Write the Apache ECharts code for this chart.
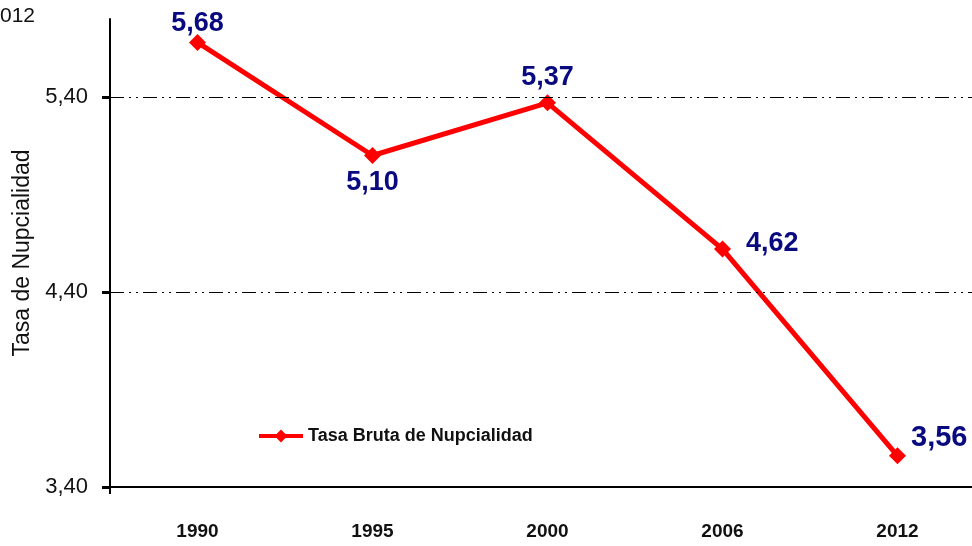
<!DOCTYPE html>
<html>
<head>
<meta charset="utf-8">
<script src="https://cdn.jsdelivr.net/npm/echarts@6/dist/echarts.min.js"></script>
<style>
  html, body { margin: 0; padding: 0; background: #fff; }
  #chart { width: 972px; height: 546px; }
</style>
</head>
<body>
<div id="chart"></div>
<script>
// data
const years = ['1990', '1995', '2000', '2006', '2012']
const tasa = [5.68, 5.10, 5.37, 4.62, 3.56]
const yTicks = [3.4, 4.4, 5.4]

const fmt = v => v.toFixed(2).replace('.', ',')

// where each value label sits relative to its point
const labelPlace = [
  { position: 'top', distance: 0, offset: [0, 3] },
  { position: 'bottom', distance: 5 },
  { position: 'top', distance: 3 },
  { position: 'right', distance: 15, offset: [0, -6] },
  { position: 'right', distance: 5, offset: [0, -18], fontSize: 29 }
]

const chart = echarts.init(document.getElementById('chart'))

chart.setOption({
  animation: false,
  grid: { left: 110, right: -13, top: 19, bottom: 59, outerBoundsMode: 'none' },
  graphic: [{
    type: 'text', left: 0, top: 6,
    style: { text: '012', font: '21px "Liberation Sans", Arial', fill: '#111' }
  }, {
    type: 'line',
    shape: { x1: 110, y1: 487, x2: 110, y2: 494 },
    style: { stroke: '#000', lineWidth: 2 }
  }],
  legend: {
    data: ['Tasa Bruta de Nupcialidad'],
    left: 252, top: 422,
    itemWidth: 44, itemHeight: 16, itemGap: 4,
    lineStyle: { width: 4 },
    textStyle: { fontFamily: '"Liberation Sans", Arial', fontWeight: 'bold', fontSize: 18, color: '#111' }
  },
  xAxis: {
    type: 'category',
    data: years,
    axisLine: { lineStyle: { color: '#000', width: 2 } },
    axisTick: { show: false },
    axisLabel: {
      margin: 35,
      color: '#111',
      fontFamily: '"Liberation Sans", Arial',
      fontWeight: 'bold',
      fontSize: 19
    }
  },
  yAxis: {
    type: 'value',
    min: yTicks[0],
    max: 5.8,
    interval: 1,
    name: 'Tasa de Nupcialidad',
    nameLocation: 'middle',
    nameGap: 72,
    nameTextStyle: { fontFamily: '"Liberation Sans", Arial', fontSize: 23, color: '#111' },
    axisLine: { show: true, lineStyle: { color: '#000', width: 2 } },
    axisTick: {
      show: true,
      inside: false,
      length: 8,
      customValues: yTicks,
      lineStyle: { color: '#000', width: 3 }
    },
    axisLabel: {
      customValues: yTicks,
      formatter: v => fmt(v),
      margin: 22,
      color: '#111',
      fontFamily: '"Liberation Sans", Arial',
      fontSize: 22
    },
    splitLine: { show: false }
  },
  series: [{
    name: 'Tasa Bruta de Nupcialidad',
    type: 'line',
    data: tasa.map((v, i) => ({ value: v, label: labelPlace[i] })),
    symbol: 'diamond',
    symbolSize: 17,
    lineStyle: { color: '#ff0000', width: 5 },
    itemStyle: { color: '#ff0000' },
    label: {
      show: true,
      formatter: p => fmt(p.value),
      color: '#0a0a80',
      fontFamily: '"Liberation Sans", Arial',
      fontWeight: 'bold',
      fontSize: 27
    },
    markLine: {
      silent: true,
      symbol: 'none',
      label: { show: false },
      lineStyle: { color: '#000', width: 1, type: [14, 5, 2, 5, 2, 5] },
      data: yTicks.slice(1).map(t => ({ yAxis: t }))
    },
    z: 3
  }]
})
</script>
</body>
</html>
